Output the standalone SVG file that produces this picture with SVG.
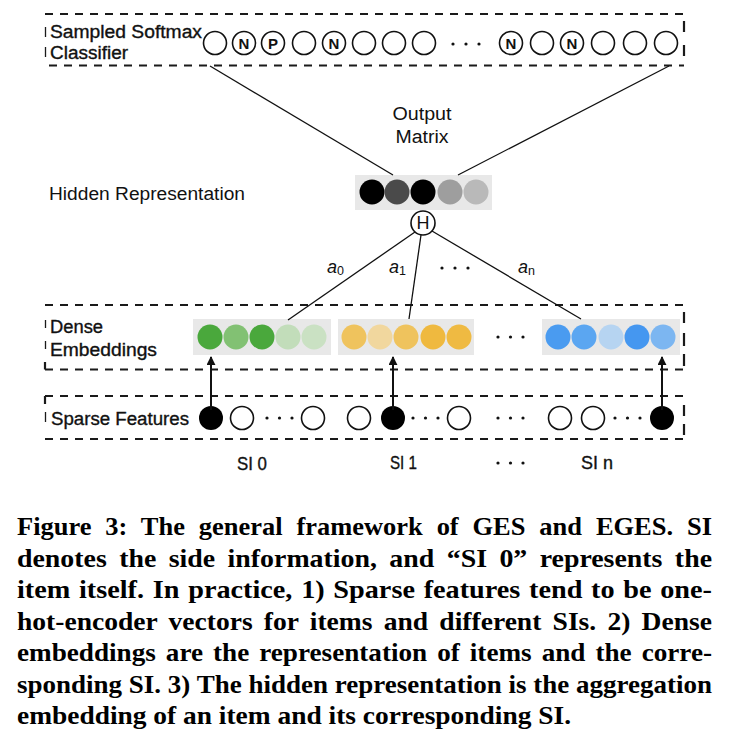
<svg xmlns="http://www.w3.org/2000/svg" width="732" height="744" viewBox="0 0 732 744">
<style>
.dash{stroke:#1a1a1a;stroke-width:2.2;stroke-dasharray:8 7;fill:none}
.edge{stroke:#1a1a1a;stroke-width:2.2;fill:none}
.thin{stroke:#1a1a1a;stroke-width:1.3;fill:none}
.oc{fill:#fff;stroke:#111;stroke-width:1.6}
.bc{fill:#000}
.lbl{font-family:"Liberation Sans",Arial,sans-serif;font-size:18px;fill:#111}
.sil{stroke:#111;stroke-width:0.35}
.nl{font-family:"Liberation Sans",Arial,sans-serif;font-size:15px;font-weight:bold;fill:#111;text-anchor:middle}
.box{fill:#e8e8e8}
.dot{fill:#111}
.cap{font-family:"Liberation Serif","Times New Roman",serif;font-size:25.5px;font-weight:bold;fill:#000}
.link{stroke:#111;stroke-width:1.3;fill:none}
.arr{stroke:#111;stroke-width:2;fill:none}
</style>
<defs>
<marker id="ah" viewBox="0 0 10 10" refX="9" refY="5" markerWidth="4.5" markerHeight="4.5" orient="auto">
<path d="M0,0 L10,5 L0,10 z" fill="#111"/>
</marker>
</defs>

<g id="softmax">
<line class="dash" x1="45" y1="14" x2="684" y2="14"/>
<line class="dash" x1="49" y1="65.5" x2="684" y2="65.5"/>
<line class="thin" x1="45.5" y1="27" x2="45.5" y2="37"/>
<line class="thin" x1="45.5" y1="47" x2="45.5" y2="57"/>
<line class="edge" x1="684" y1="21" x2="684" y2="32"/>
<line class="edge" x1="684" y1="45" x2="684" y2="56"/>
<text class="lbl sil" x="50" y="38" textLength="152" lengthAdjust="spacingAndGlyphs">Sampled Softmax</text>
<text class="lbl sil" x="50" y="59" textLength="78" lengthAdjust="spacingAndGlyphs">Classifier</text>
<circle class="oc" cx="215" cy="43" r="11.5"/>
<circle class="oc" cx="244" cy="43" r="11.5"/>
<circle class="oc" cx="273" cy="43" r="11.5"/>
<circle class="oc" cx="304" cy="43" r="11.5"/>
<circle class="oc" cx="334" cy="43" r="11.5"/>
<circle class="oc" cx="364" cy="43" r="11.5"/>
<circle class="oc" cx="394" cy="43" r="11.5"/>
<circle class="oc" cx="424" cy="43" r="11.5"/>
<circle class="dot" cx="453" cy="44" r="1.6"/>
<circle class="dot" cx="466" cy="44" r="1.6"/>
<circle class="dot" cx="479" cy="44" r="1.6"/>
<circle class="oc" cx="511" cy="43" r="11.5"/>
<circle class="oc" cx="542" cy="43" r="11.5"/>
<circle class="oc" cx="572" cy="43" r="11.5"/>
<circle class="oc" cx="603" cy="43" r="11.5"/>
<circle class="oc" cx="635" cy="43" r="11.5"/>
<circle class="oc" cx="666" cy="43" r="11.5"/>
<text class="nl" x="244" y="48.5">N</text>
<text class="nl" x="273" y="48.5">P</text>
<text class="nl" x="334" y="48.5">N</text>
<text class="nl" x="511" y="48.5">N</text>
<text class="nl" x="572" y="48.5">N</text>
</g>

<g id="output-matrix">
<text class="lbl" x="422" y="120" text-anchor="middle" font-size="17.5" textLength="59" lengthAdjust="spacingAndGlyphs">Output</text>
<text class="lbl" x="422" y="143" text-anchor="middle" font-size="17.5" textLength="53" lengthAdjust="spacingAndGlyphs">Matrix</text>
</g>

<g id="hidden">
<text class="lbl" x="49" y="200" textLength="196" lengthAdjust="spacingAndGlyphs">Hidden Representation</text>
<rect class="box" x="355" y="175" width="137" height="35"/>
<circle cx="372" cy="192" r="12.5" fill="#000"/>
<circle cx="397" cy="192" r="12.5" fill="#4a4a4a"/>
<circle cx="423" cy="192" r="12.5" fill="#000"/>
<circle cx="450" cy="192" r="12.5" fill="#9e9e9e"/>
<circle cx="476" cy="192" r="12.5" fill="#b9b9b9"/>
</g>

<g id="H">
<circle class="oc" cx="423" cy="223" r="12"/>
<text class="lbl" x="423" y="229" text-anchor="middle" font-size="17">H</text>
</g>

<g id="weights">
<text class="lbl" x="327" y="273" font-size="20" font-style="italic">a<tspan font-size="12.5" dy="2" font-style="normal">0</tspan></text>
<text class="lbl" x="389" y="273" font-size="20" font-style="italic">a<tspan font-size="12.5" dy="2" font-style="normal">1</tspan></text>
<circle class="dot" cx="442" cy="268" r="1.6"/>
<circle class="dot" cx="455" cy="268" r="1.6"/>
<circle class="dot" cx="468" cy="268" r="1.6"/>
<text class="lbl" x="518" y="273" font-size="20" font-style="italic">a<tspan font-size="12.5" dy="2" font-style="normal">n</tspan></text>
</g>

<g id="dense">
<line class="dash" x1="45" y1="305" x2="684" y2="305"/>
<line class="dash" x1="45" y1="369.5" x2="684" y2="369.5"/>
<line class="thin" x1="45.5" y1="320" x2="45.5" y2="328"/>
<line class="thin" x1="45.5" y1="341" x2="45.5" y2="349"/>
<line class="edge" x1="45" y1="362" x2="45" y2="369.5"/>
<line class="edge" x1="684" y1="312" x2="684" y2="323"/>
<line class="edge" x1="684" y1="333" x2="684" y2="346"/>
<line class="edge" x1="684" y1="354" x2="684" y2="366"/>
<text class="lbl sil" x="50" y="333" textLength="53" lengthAdjust="spacingAndGlyphs">Dense</text>
<text class="lbl sil" x="50" y="356" textLength="107" lengthAdjust="spacingAndGlyphs">Embeddings</text>
<rect class="box" x="193" y="319" width="138" height="36"/>
<circle cx="210" cy="337" r="12.5" fill="#4aa83c"/>
<circle cx="236" cy="337" r="12.5" fill="#82c173"/>
<circle cx="262" cy="337" r="12.5" fill="#4aa83c"/>
<circle cx="288" cy="337" r="12.5" fill="#c2ddba"/>
<circle cx="314" cy="337" r="12.5" fill="#cae1c3"/>
<rect class="box" x="338" y="319" width="136" height="36"/>
<circle cx="354" cy="337" r="12.5" fill="#efc35d"/>
<circle cx="380" cy="337" r="12.5" fill="#f1d79e"/>
<circle cx="406" cy="337" r="12.5" fill="#efc35d"/>
<circle cx="433" cy="337" r="12.5" fill="#efb93f"/>
<circle cx="459" cy="337" r="12.5" fill="#efba42"/>
<circle class="dot" cx="498" cy="337" r="1.6"/>
<circle class="dot" cx="510.5" cy="337" r="1.6"/>
<circle class="dot" cx="523" cy="337" r="1.6"/>
<rect class="box" x="542" y="319" width="138" height="36"/>
<circle cx="558" cy="337" r="12.5" fill="#4a9bf0"/>
<circle cx="584" cy="337" r="12.5" fill="#5ba6f1"/>
<circle cx="611" cy="337" r="12.5" fill="#b6d4f1"/>
<circle cx="637" cy="337" r="12.5" fill="#4597f0"/>
<circle cx="663" cy="337" r="12.5" fill="#7cb6f1"/>
</g>

<g id="sparse">
<line class="dash" x1="45" y1="396" x2="684" y2="396"/>
<line class="dash" x1="45" y1="439" x2="684" y2="439"/>
<line class="edge" x1="45" y1="396" x2="45" y2="404"/>
<line class="thin" x1="45.5" y1="412" x2="45.5" y2="422"/>
<line class="edge" x1="684" y1="405" x2="684" y2="416"/>
<line class="edge" x1="684" y1="424" x2="684" y2="435"/>
<text class="lbl sil" x="51" y="425" textLength="138" lengthAdjust="spacingAndGlyphs">Sparse Features</text>
<circle class="bc" cx="211" cy="418" r="12"/>
<circle class="oc" cx="242" cy="418" r="11.5"/>
<circle class="dot" cx="267" cy="418" r="1.6"/>
<circle class="dot" cx="279.5" cy="418" r="1.6"/>
<circle class="dot" cx="292" cy="418" r="1.6"/>
<circle class="oc" cx="313" cy="418" r="11.5"/>
<circle class="oc" cx="359" cy="418" r="11.5"/>
<circle class="bc" cx="393" cy="418" r="12"/>
<circle class="dot" cx="413" cy="418" r="1.6"/>
<circle class="dot" cx="425.5" cy="418" r="1.6"/>
<circle class="dot" cx="438" cy="418" r="1.6"/>
<circle class="oc" cx="459" cy="418" r="11.5"/>
<circle class="dot" cx="498" cy="418" r="1.6"/>
<circle class="dot" cx="510.5" cy="418" r="1.6"/>
<circle class="dot" cx="523" cy="418" r="1.6"/>
<circle class="oc" cx="560" cy="418" r="11.5"/>
<circle class="oc" cx="593" cy="418" r="11.5"/>
<circle class="dot" cx="615" cy="418" r="1.6"/>
<circle class="dot" cx="627.5" cy="418" r="1.6"/>
<circle class="dot" cx="640" cy="418" r="1.6"/>
<circle class="bc" cx="662" cy="418" r="12"/>
</g>

<g id="si-labels">
<text class="lbl sil" x="237" y="470" font-size="18.5" textLength="30" lengthAdjust="spacingAndGlyphs">SI 0</text>
<text class="lbl sil" x="390" y="469" font-size="18.5" textLength="27" lengthAdjust="spacingAndGlyphs">SI 1</text>
<circle class="dot" cx="498" cy="463" r="1.6"/>
<circle class="dot" cx="510.5" cy="463" r="1.6"/>
<circle class="dot" cx="523" cy="463" r="1.6"/>
<text class="lbl sil" x="581" y="469" font-size="18.5" textLength="32" lengthAdjust="spacingAndGlyphs">SI n</text>
</g>

<g id="connectors">
<line class="link" x1="210" y1="66" x2="393" y2="175"/>
<line class="link" x1="669" y1="66" x2="458" y2="175"/>
<line class="link" x1="415" y1="232" x2="288" y2="320"/>
<line class="link" x1="421" y1="235" x2="409" y2="319"/>
<line class="link" x1="432" y1="231" x2="581" y2="319"/>
<line class="arr" x1="211" y1="410" x2="211" y2="357" marker-end="url(#ah)"/>
<line class="arr" x1="393" y1="410" x2="393" y2="357" marker-end="url(#ah)"/>
<line class="arr" x1="662" y1="410" x2="662" y2="357" marker-end="url(#ah)"/>
</g>

<g id="caption">
<text class="cap" x="17" y="535" word-spacing="7" textLength="695" lengthAdjust="spacingAndGlyphs">Figure 3: The general framework of GES and EGES. SI</text>
<text class="cap" x="17" y="566.5" word-spacing="5" textLength="695" lengthAdjust="spacingAndGlyphs">denotes the side information, and “SI 0” represents the</text>
<text class="cap" x="17" y="598" word-spacing="1.5" textLength="695" lengthAdjust="spacingAndGlyphs">item itself. In practice, 1) Sparse features tend to be one-</text>
<text class="cap" x="17" y="629.5" word-spacing="4" textLength="695" lengthAdjust="spacingAndGlyphs">hot-encoder vectors for items and different SIs. 2) Dense</text>
<text class="cap" x="17" y="661" word-spacing="3" textLength="695" lengthAdjust="spacingAndGlyphs">embeddings are the representation of items and the corre-</text>
<text class="cap" x="17" y="692.5" textLength="695" lengthAdjust="spacingAndGlyphs">sponding SI. 3) The hidden representation is the aggregation</text>
<text class="cap" x="17" y="724" textLength="554" lengthAdjust="spacingAndGlyphs">embedding of an item and its corresponding SI.</text>
</g>
</svg>
